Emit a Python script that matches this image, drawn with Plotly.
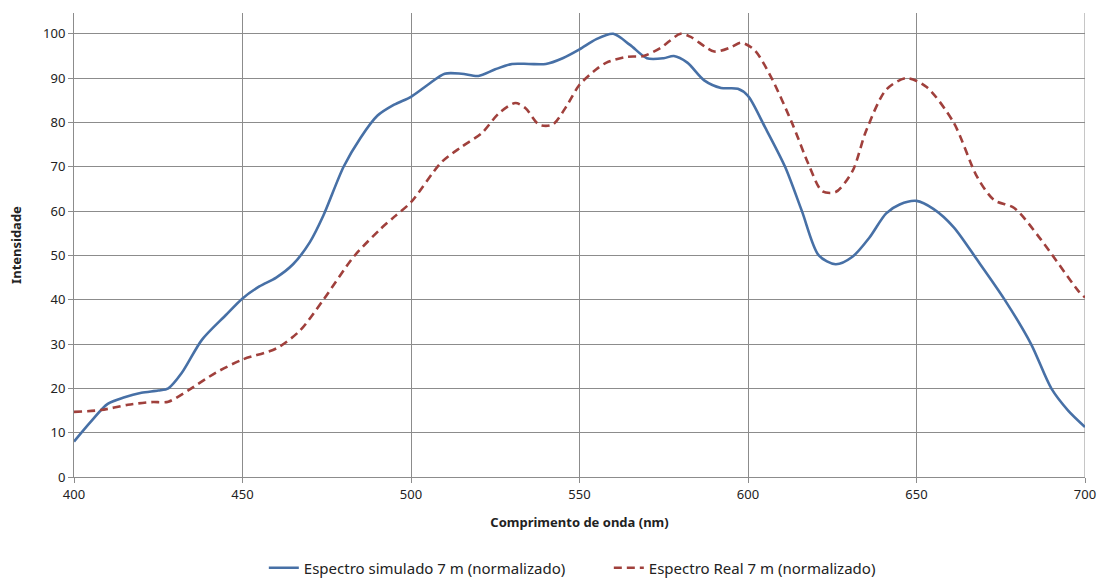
import plotly.graph_objects as go

sim_x = [400, 405, 410, 415, 420, 425, 428, 432, 438, 445, 450, 455, 460, 465, 470, 474, 480, 485, 490, 495,
         500, 505, 510, 515, 520, 525, 530, 535, 540, 545, 550, 555, 560, 565, 570, 575, 578, 582, 587, 592,
         597, 600, 605, 611, 616, 621, 626, 631, 636, 641, 645, 650, 655, 661, 668, 676, 684, 690, 695, 700]
sim_y = [8, 12.5, 16.5, 18, 19, 19.5, 20, 23.5, 31, 36.5, 40.3, 43, 45, 48, 53, 59, 70, 76.5, 81.5, 84,
         85.8, 88.5, 91, 91, 90.5, 92, 93.2, 93.2, 93.2, 94.5, 96.5, 98.8, 100, 97.5, 94.5, 94.5, 95, 93.5, 89.5, 87.8,
         87.6, 86, 79, 70, 60, 50, 48, 49.7, 54, 59.5, 61.5, 62.3, 60.5, 56.4, 49, 40.2, 30, 20, 15, 11.3]

real_x = [400, 408, 416, 423, 428, 434, 442, 450, 460, 467, 474, 483, 491, 495, 500, 509, 515, 521, 526, 531,
          534, 538, 542, 546, 550, 555, 558, 564, 569, 574, 580, 583, 590, 595, 598, 602, 607, 613, 618, 622,
          626, 631, 635, 641, 647, 653, 661, 668, 673, 679, 687, 698, 700]
real_y = [14.7, 15.1, 16.3, 16.9, 17, 19.6, 23.5, 26.5, 29, 33, 40, 49.7, 56, 58.7, 62, 71, 74.5, 77.6, 82, 84.4,
          83.2, 79.5, 79.5, 83.5, 88.5, 92, 93.5, 94.8, 95, 96.8, 100, 99.3, 96, 97, 98, 96.3, 90, 80, 70.5, 64.5,
          64.3, 69, 78, 87.4, 90, 88, 80, 67.7, 62.5, 60.7, 53.5, 42, 40.5]

x_ticks = [400, 450, 500, 550, 600, 650, 700]
y_ticks = [0, 10, 20, 30, 40, 50, 60, 70, 80, 90, 100]

FONT = "Noto Sans"
GRID = "#8c8c8c"

fig = go.Figure()
fig.add_trace(go.Scatter(x=sim_x, y=sim_y, mode="lines", name="Espectro simulado 7 m (normalizado)",
                         line=dict(color="#4770a6", width=2.6, shape="spline", smoothing=0.8)))
fig.add_trace(go.Scatter(x=real_x, y=real_y, mode="lines", name="Espectro Real 7 m (normalizado)",
                         line=dict(color="#a0403c", width=2.6, shape="spline", smoothing=0.8, dash="8px,5px")))

fig.update_layout(
    width=1104, height=581,
    paper_bgcolor="white", plot_bgcolor="white",
    margin=dict(l=74, r=19, t=13, b=104, autoexpand=False),
    font=dict(family=FONT, size=12, color="#222222"),
    legend=dict(orientation="h", x=0.529, xanchor="center", y=-0.196, yanchor="middle",
                font=dict(size=15, family=FONT), entrywidth=300, entrywidthmode="pixels"),
    showlegend=True,
)
fig.update_xaxes(range=[400, 700], tickvals=x_ticks, showgrid=True, gridcolor=GRID, gridwidth=1,
                 showline=True, linecolor=GRID, linewidth=1, ticks="outside", ticklen=5, tickcolor=GRID,
                 zeroline=False, tickfont=dict(size=13), automargin=False,
                 title=dict(text="<b>Comprimento de onda (nm)</b>", font=dict(size=13), standoff=16))
fig.update_yaxes(range=[0, 104.7], tickvals=y_ticks, showgrid=True, gridcolor=GRID, gridwidth=1,
                 showline=True, linecolor=GRID, linewidth=1, ticks="outside", ticklen=5, tickcolor=GRID,
                 zeroline=False, tickfont=dict(size=13), automargin=False,
                 title=dict(text="<b>Intensidade</b>", font=dict(size=13), standoff=18))
fig.add_shape(type="line", xref="x", yref="paper", x0=700, x1=700, y0=0, y1=1,
              line=dict(color=GRID, width=1), layer="below")

fig.write_html("out.html")
